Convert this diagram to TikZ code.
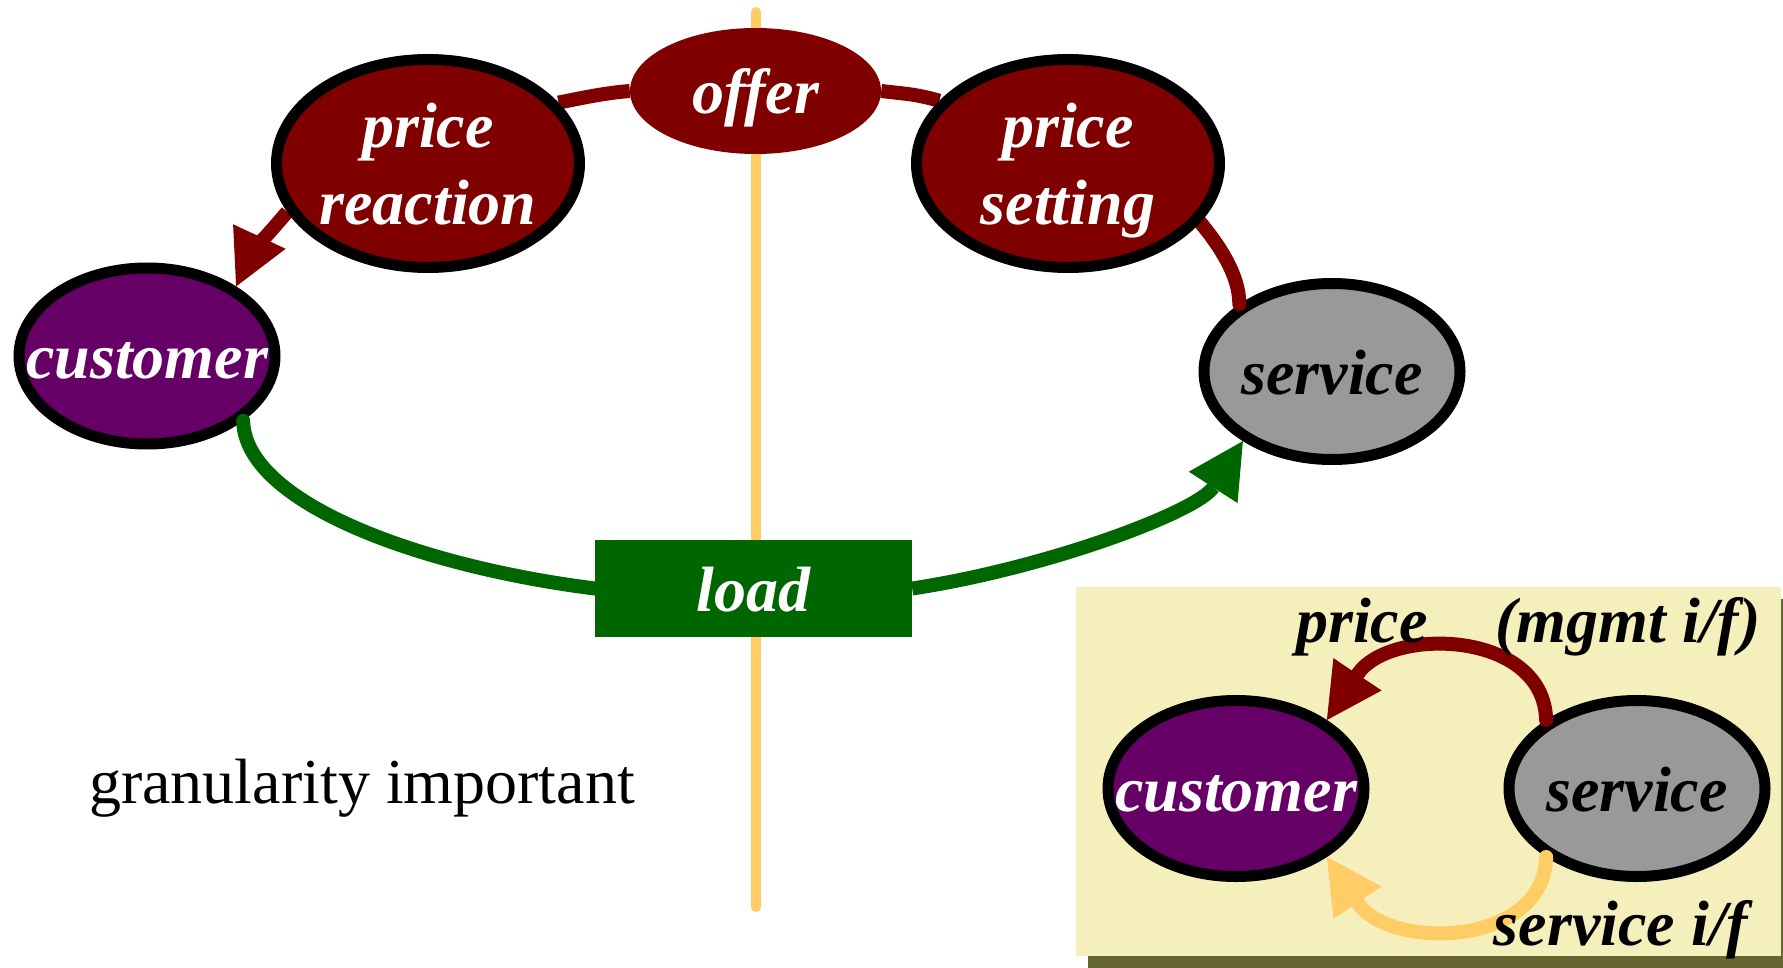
\documentclass[tikz,border=0pt]{standalone}
\usepackage{fontspec}
\setmainfont{Liberation Serif}
\usetikzlibrary{arrows.meta,shapes.geometric}

\definecolor{maroonred}{RGB}{128,0,0}
\definecolor{plum}{RGB}{102,0,102}
\definecolor{stone}{RGB}{153,153,153}
\definecolor{leaf}{RGB}{0,102,0}
\definecolor{amber}{RGB}{255,204,102}
\definecolor{cream}{RGB}{245,240,187}
\definecolor{shadowolive}{RGB}{102,102,51}

\pgfdeclarelayer{lower}
\pgfdeclarelayer{middle}
\pgfdeclarelayer{upper}
\pgfsetlayers{lower,middle,main,upper}

% fixed line height and depth so every label sits at the same place
\newcommand\tallstrut{\rule{0pt}{60pt}}
\newcommand\deepstrut{\rule[-15pt]{0pt}{15pt}}

\tikzset{
  bigfont/.style={font=\fontsize{64}{77}\selectfont\bfseries\itshape},
  lbl/.style={bigfont, inner sep=0pt, align=center},
  whitelbl/.style={lbl, text=white},
  blob/.style={ellipse, draw=black, line width=11pt, inner sep=0pt},
  twoline/.style={blob, fill=maroonred, minimum width=303pt, minimum height=208pt},
  party/.style={blob, minimum width=256pt, minimum height=176pt},
  rline/.style={draw=maroonred, line width=14pt},
  gline/.style={draw=leaf, line width=14pt},
  yline/.style={draw=amber, line width=14pt},
  headed/.style={-{Triangle[length=55pt,width=58pt,line width=0pt]}},
}

\begin{document}
\begin{tikzpicture}[x=1pt,y=-1pt]
\useasboundingbox (0,0) rectangle (1783,968);

% ---- bottom layer: dividing axis, service node, inset panel
\begin{pgfonlayer}{lower}
  \coordinate (axtop) at (756,12);
  \coordinate (axbot) at (756,907);
  \draw[amber, line width=10pt, line cap=round] (axtop) -- (axbot);
  \node[party, fill=stone, label={[lbl]center:{\tallstrut service\deepstrut}}] (serv) at (1332,371.5) {};
  \fill[shadowolive] (1088,599) rectangle (1783,968);
  \fill[cream] (1076,587) rectangle (1781,956);
\end{pgfonlayer}

% ---- main cycle nodes
\node[twoline, label={[whitelbl]center:{\tallstrut price\\reaction\deepstrut}}] (pr) at (428,163.5) {};
\node[twoline, label={[whitelbl]center:{\tallstrut price\\setting\deepstrut}}] (ps) at (1068,163.5) {};
\node[ellipse, fill=maroonred, inner sep=0pt, minimum width=251pt, minimum height=126pt,
      label={[whitelbl]center:{\tallstrut offer\deepstrut}}] (offer) at (755.5,91) {};
\node[party, fill=plum, label={[whitelbl]center:{\tallstrut customer\deepstrut}}] (cust) at (147,356) {};
\node[rectangle, fill=leaf, inner sep=0pt, minimum width=317pt, minimum height=97pt,
      label={[whitelbl]center:{\tallstrut load\deepstrut}}] (load) at (753.5,588.5) {};
\node[anchor=base west, inner sep=0pt, font=\fontsize{64}{77}\selectfont] (gran) at (89,803) {granularity important};

% ---- price connectors (run under the ellipses)
\begin{pgfonlayer}{middle}
  \draw[rline, headed] (pr.199) .. controls +(-14,16) and +(14,-30) .. (cust.38);
  \draw[rline] (pr.25) .. controls +(25,-5) and +(-25,2) .. (offer.west);
  \draw[rline] (offer.east) .. controls +(25,3) and +(-25,-7) .. (ps.154);
  \draw[rline, line cap=round] (ps.-24) .. controls +(18,22) and +(0,-30) .. (serv.144);
\end{pgfonlayer}

% ---- load connectors
\begin{pgfonlayer}{upper}
  \draw[gline, line cap=round] (cust.-34) .. controls +(2,82) and +(-175,-22) .. (load.west);
  \draw[gline, headed] (load.east) .. controls +(138,-21) and +(-45,70) .. (serv.218);
\end{pgfonlayer}

% ---- inset: management and service interfaces
\node[party, fill=plum, label={[whitelbl]center:{\tallstrut customer\deepstrut}}] (cust2) at (1236,788.5) {};
\node[party, fill=stone, label={[lbl]center:{\tallstrut service\deepstrut}}] (serv2) at (1637,788.5) {};

\begin{pgfonlayer}{upper}
  \draw[rline, line cap=round, headed] (serv2.143) .. controls +(-2,-90) and +(63,-94) .. (cust2.37);
  \draw[yline, line cap=round, headed] (serv2.217) .. controls +(-2,90) and +(63,94) .. (cust2.-37);
  \node[bigfont, anchor=base, inner sep=0pt] (lprice) at (1362,642) {price};
  \node[bigfont, anchor=base, inner sep=0pt] (lmgmt) at (1628,642) {(mgmt i/f)};
  \node[bigfont, anchor=base, inner sep=0pt] (lsif) at (1621,945) {service i/f};
\end{pgfonlayer}
\end{tikzpicture}
\end{document}
